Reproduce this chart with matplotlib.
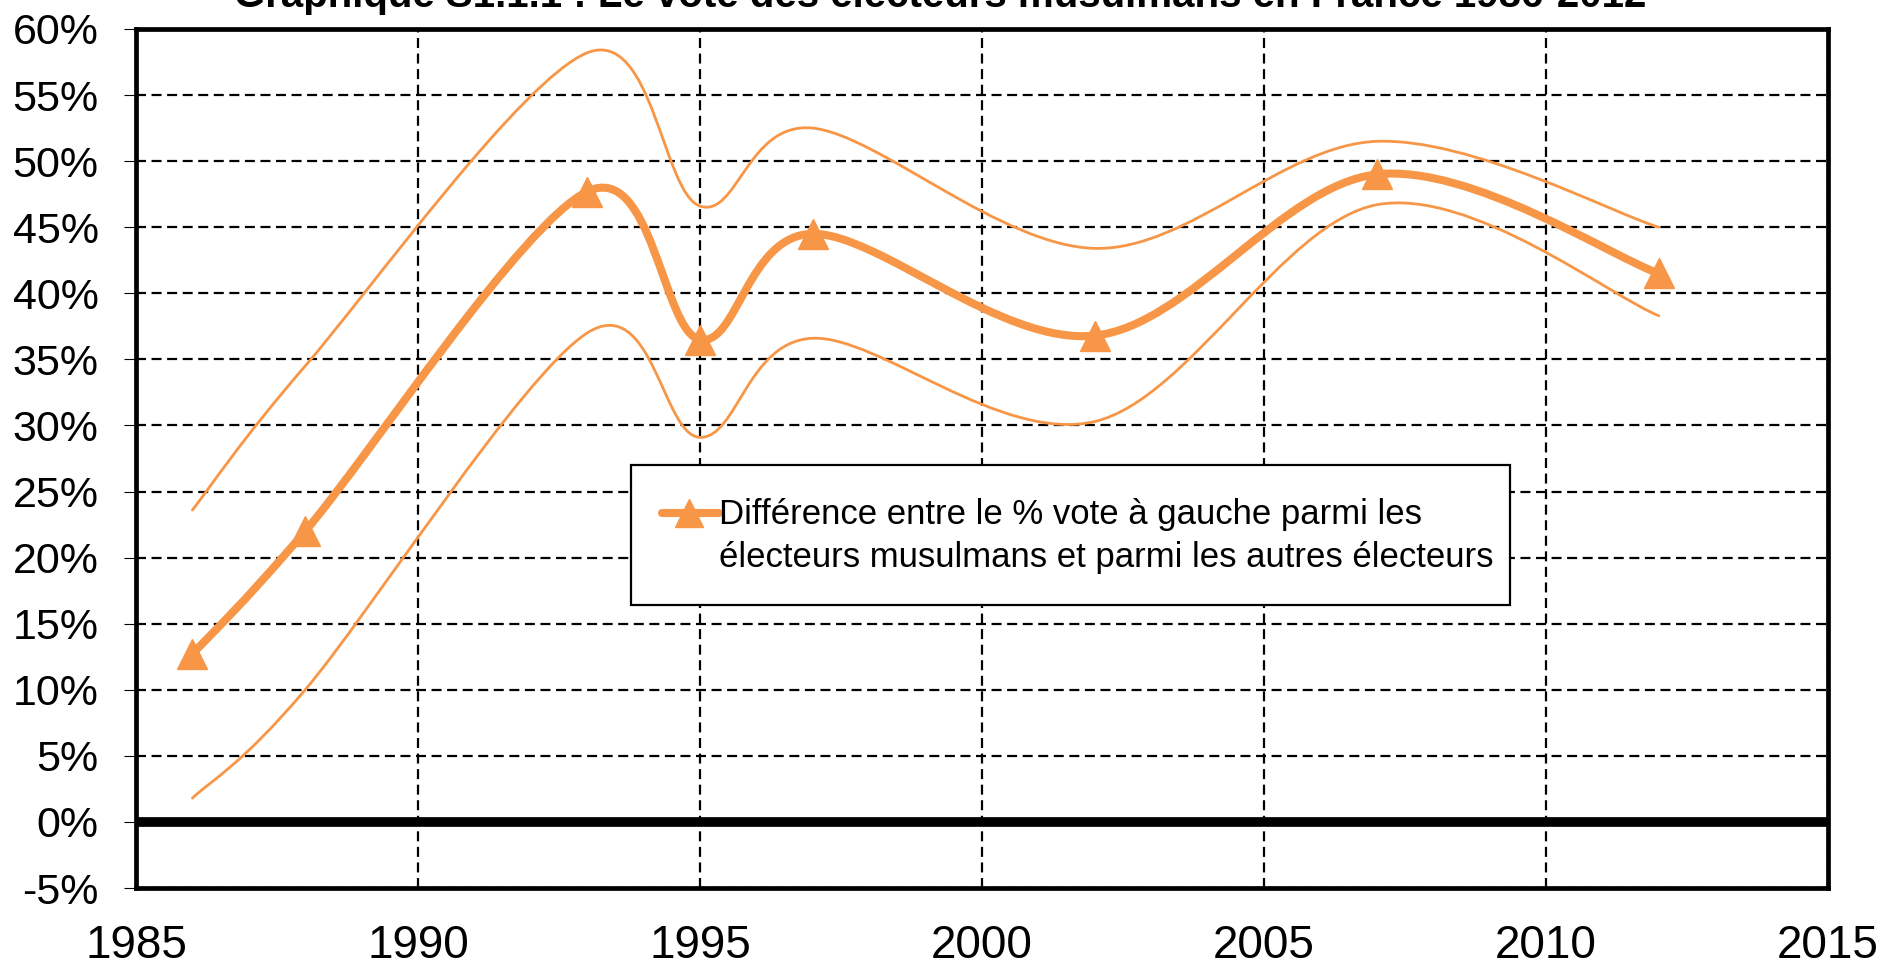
import numpy as np
import matplotlib
matplotlib.use("Agg")
import matplotlib.pyplot as plt
from matplotlib.path import Path
from matplotlib.patches import PathPatch, Rectangle
from matplotlib.lines import Line2D
from matplotlib.ticker import FuncFormatter, MultipleLocator

plt.rcParams['font.family'] = ['Liberation Sans', 'DejaVu Sans']

# donnees (en %)
annees = [1986, 1988, 1993, 1995, 1997, 2002, 2007, 2012]
ecart = [12.7, 22.0, 47.7, 36.5, 44.5, 36.8, 49.0, 41.5]
borne_haute = [23.6, 34.5, 58.2, 46.6, 52.5, 43.4, 51.5, 45.0]
borne_basse = [1.8, 10.0, 37.0, 29.1, 36.6, 30.3, 46.7, 38.3]

titre = "Graphique S1.1.1 : Le vote des électeurs musulmans en France 1986-2012"
legende_l1 = "Différence entre le % vote à gauche parmi les"
legende_l2 = "électeurs musulmans et parmi les autres électeurs"

orange = '#F79646'


def courbe_lissee(x, y):
    # lissage facon Excel (bezier, catmull-rom)
    pts = np.column_stack([x, y]).astype(float)
    n = len(pts)
    verts = [pts[0]]
    codes = [Path.MOVETO]
    for i in range(n - 1):
        p0 = pts[i - 1] if i > 0 else pts[i]
        p1 = pts[i]
        p2 = pts[i + 1]
        p3 = pts[i + 2] if i + 2 < n else pts[i + 1]
        verts += [p1 + (p2 - p0) / 6, p2 - (p3 - p1) / 6, p2]
        codes += [Path.CURVE4] * 3
    return Path(verts, codes)


fig = plt.figure(figsize=(18.85, 9.67), dpi=100)
ax = fig.add_axes([136 / 1885, 1 - 888 / 967, 1692 / 1885, 859 / 967])

ax.set_xlim(1985, 2015)
ax.set_ylim(-5, 60)
ax.xaxis.set_major_locator(MultipleLocator(5))
ax.yaxis.set_major_locator(MultipleLocator(5))
ax.yaxis.set_major_formatter(FuncFormatter(lambda v, p: "%d%%" % round(v)))

ax.grid(True, color='black', linestyle=(0, (4.5, 2.5)), linewidth=1.6, zorder=1)
ax.set_axisbelow(True)
for s in ax.spines.values():
    s.set_linewidth(3.4)
ax.tick_params(axis='x', length=0, pad=26, labelsize=33)
ax.tick_params(axis='y', length=9, width=0.8, pad=18, labelsize=31)

ax.axhline(0, color='black', linewidth=7, zorder=2)

for serie, lw in [(borne_haute, 2.0), (borne_basse, 2.0), (ecart, 5.8)]:
    ax.add_patch(PathPatch(courbe_lissee(annees, serie), fill=False,
                           edgecolor=orange, linewidth=lw, zorder=3,
                           capstyle='round'))
ax.plot(annees, ecart, linestyle='none', marker='^', markersize=22,
        color=orange, zorder=4)

# cadre de legende
ax.add_patch(Rectangle((495 / 1692, 283 / 859), 879 / 1692, 140 / 859,
                       transform=ax.transAxes, facecolor='white',
                       edgecolor='black', linewidth=1.6, zorder=5))
ax.add_line(Line2D([0.311, 0.3446], [0.4366, 0.4366], transform=ax.transAxes,
                   color=orange, linewidth=5.8, solid_capstyle='round',
                   zorder=6))
ax.add_line(Line2D([0.3268], [0.4366], transform=ax.transAxes, color=orange,
                   marker='^', markersize=20, linestyle='none', zorder=6))
ax.text(0.3446, (888 - 524) / 859, legende_l1, transform=ax.transAxes,
        fontsize=25, va='baseline', ha='left', zorder=6)
ax.text(0.3446, (888 - 567) / 859, legende_l2, transform=ax.transAxes,
        fontsize=25, va='baseline', ha='left', zorder=6)

fig.text(940 / 1885, 1 - 7 / 967, titre, ha='center', va='baseline',
         fontsize=29, fontweight='bold')

fig.savefig('out.png', dpi=100)
